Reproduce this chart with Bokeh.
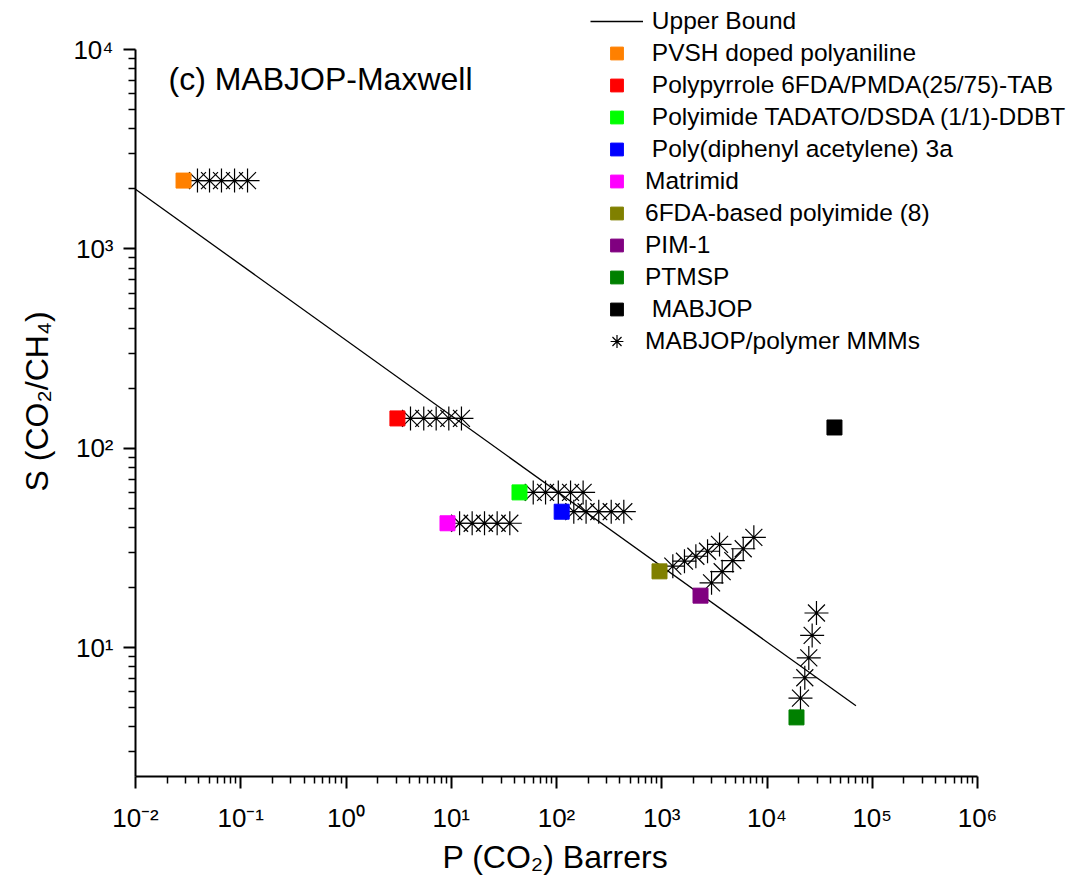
from bokeh.plotting import figure
from bokeh.models import (Range1d, FixedTicker, Legend, LegendItem, Label, Title,
                          CustomJSTickFormatter)
from bokeh.embed import file_html
from bokeh.resources import INLINE

# ---------------- data ----------------
x_ticks = [1e-2, 1e-1, 1e0, 1e1, 1e2, 1e3, 1e4, 1e5, 1e6]
x_tick_labels = ["10⁻²", "10⁻¹", "10⁰", "10¹", "10²", "10³", "10⁴", "10⁵", "10⁶"]
y_ticks = [1e1, 1e2, 1e3, 1e4]
y_tick_labels = ["10¹", "10²", "10³", "10⁴"]

# Robeson upper bound (CO2/CH4)
bound_name = " Upper Bound"
bound_p = [0.01, 70000]
bound_s = [1990, 5.1]

# pure materials (square markers)
pure_names = [" PVSH doped polyaniline", " Polypyrrole 6FDA/PMDA(25/75)-TAB",
              " Polyimide TADATO/DSDA (1/1)-DDBT", " Poly(diphenyl acetylene) 3a",
              "Matrimid", "6FDA-based polyimide (8)", "PIM-1", "PTMSP", " MABJOP"]
pure_p = [0.0286, 3.08, 44.5, 112, 9.21, 952, 2335, 19060, 43750]
pure_s = [2200, 141, 60, 48, 42, 24.1, 18.2, 4.46, 127]
pure_colors = ["#FF8000", "#FF0000", "#00FF00", "#0000FF", "#FF00FF",
               "#808000", "#800080", "#008000", "#000000"]

# MABJOP/polymer MMMs (Maxwell model predictions)
mmm_name = "MABJOP/polymer MMMs"
pvsh_mmm_p = [0.0388, 0.0505, 0.0656, 0.0873, 0.116]
pvsh_mmm_s = [2200, 2200, 2200, 2200, 2200]
ppy_mmm_p = [4.10, 5.48, 7.19, 9.48, 12.5]
ppy_mmm_s = [141, 141, 141, 141, 141]
tadato_mmm_p = [60.1, 78.7, 104, 136, 179]
tadato_mmm_s = [60, 60, 60, 60, 60]
pda_mmm_p = [146, 191, 252, 331, 436]
pda_mmm_s = [48, 48, 48, 48, 48]
matrimid_mmm_p = [12.0, 15.8, 20.7, 27.3, 36.0]
matrimid_mmm_s = [42, 42, 42, 42, 42]
sixfda_mmm_p = [1274, 1644, 2109, 2723, 3540]
sixfda_mmm_s = [25.6, 27.1, 28.7, 30.4, 32.9]
pim1_mmm_p = [2972, 3750, 4732, 5943, 7499]
pim1_mmm_s = [21.1, 24.0, 27.3, 31.3, 35.7]
ptmsp_mmm_p = [20800, 22860, 24950, 26850, 29510]
ptmsp_mmm_s = [5.57, 7.05, 8.87, 11.5, 14.9]

mmm_series = [(pvsh_mmm_p, pvsh_mmm_s), (ppy_mmm_p, ppy_mmm_s), (tadato_mmm_p, tadato_mmm_s),
              (pda_mmm_p, pda_mmm_s), (matrimid_mmm_p, matrimid_mmm_s), (sixfda_mmm_p, sixfda_mmm_s),
              (pim1_mmm_p, pim1_mmm_s), (ptmsp_mmm_p, ptmsp_mmm_s)]

x_minor = [m * 10.0 ** k for k in range(-2, 6) for m in range(2, 10)]
y_minor = [m * 10.0 ** k for k in range(0, 4) for m in range(2, 10) if m * 10.0 ** k > 2.26]

X_AXIS_START, X_AXIS_END = 0.01, 1e6
Y_AXIS_START, Y_AXIS_END = 2.2535, 1e4

FONT = "Liberation Sans"


def lead(s):
    # keep a leading blank visible in SVG text
    return "\u00a0" + s[1:] if s.startswith(" ") else s


# ---------------- figure ----------------
# the frame extends past the axis ends so that the legend (top right) is not clipped
p = figure(width=1072, height=889, x_axis_type="log", y_axis_type="log",
           x_range=Range1d(X_AXIS_START, 7.99e6), y_range=Range1d(Y_AXIS_START, 17614),
           output_backend="svg", toolbar_location=None,
           min_border_left=135, min_border_right=0, min_border_top=0, min_border_bottom=113)
p.outline_line_color = None
p.xgrid.visible = False
p.ygrid.visible = False
p.background_fill_color = "white"
p.border_fill_color = "white"

r_bound = p.line(bound_p, bound_s, line_color="black", line_width=1.3)

star_renderers = []
for mp, ms in mmm_series:
    r = p.scatter(mp, ms, marker="asterisk", size=24, line_color="black", line_width=1.2)
    star_renderers.append(r)

square_renderers = []
for i in range(len(pure_names)):
    r = p.scatter([pure_p[i]], [pure_s[i]], marker="square", size=15,
                  fill_color=pure_colors[i], line_color=pure_colors[i])
    square_renderers.append(r)

# axes
fmt_code = """
let best = -1;
for (let i = 0; i < tvals.length; i++) {
  if (Math.abs(Math.log10(tvals[i]) - Math.log10(tick)) < 1e-6) { best = i; }
}
return best >= 0 ? tlabels[best] : "";
"""
xa = p.xaxis[0]
ya = p.yaxis[0]
xa.bounds = (X_AXIS_START, X_AXIS_END)
ya.bounds = (Y_AXIS_START, Y_AXIS_END)
xa.ticker = FixedTicker(ticks=x_ticks, minor_ticks=x_minor)
ya.ticker = FixedTicker(ticks=y_ticks, minor_ticks=y_minor)
xa.formatter = CustomJSTickFormatter(args=dict(tvals=x_ticks, tlabels=x_tick_labels), code=fmt_code)
ya.formatter = CustomJSTickFormatter(args=dict(tvals=y_ticks, tlabels=y_tick_labels), code=fmt_code)
for ax in (xa, ya):
    ax.axis_line_width = 2
    ax.axis_line_color = "black"
    ax.major_tick_line_width = 2
    ax.minor_tick_line_width = 1.5
    ax.major_tick_out = 12
    ax.major_tick_in = 0
    ax.minor_tick_out = 7
    ax.minor_tick_in = 0
    ax.major_label_text_font = FONT
    ax.major_label_text_font_size = "26px"
    ax.major_label_text_color = "black"
xa.major_label_standoff = 14
ya.major_label_standoff = 10

# axis titles, placed along the drawn axis extent
x_title = Title(text="P (CO₂) Barrers", align="left", offset=307, standoff=2,
                text_font=FONT, text_font_size="32px", text_font_style="normal",
                text_color="black")
p.add_layout(x_title, "below")
y_title = Title(text="S (CO₂/CH₄)", align="left", offset=285, standoff=32,
                text_font=FONT, text_font_size="32px", text_font_style="normal",
                text_color="black")
p.add_layout(y_title, "left")

# panel title
p.add_layout(Label(x=0.02058, y=7152, text="(c) MABJOP-Maxwell", text_font=FONT,
                   text_font_size="32px", text_color="black", text_baseline="alphabetic"))

# legend
items = [LegendItem(label=lead(bound_name), renderers=[r_bound])]
for name, r in zip(pure_names, square_renderers):
    items.append(LegendItem(label=lead(name), renderers=[r]))
items.append(LegendItem(label=mmm_name, renderers=[star_renderers[0]]))
legend = Legend(items=items, location=(455, 419), padding=0, margin=0, spacing=0,
                glyph_width=53, glyph_height=32, label_standoff=2,
                label_text_font=FONT, label_text_font_size="24.5px", label_text_color="black",
                background_fill_alpha=0, border_line_alpha=0)
p.add_layout(legend, "center")

open("out.html", "w").write(file_html(p, INLINE))
